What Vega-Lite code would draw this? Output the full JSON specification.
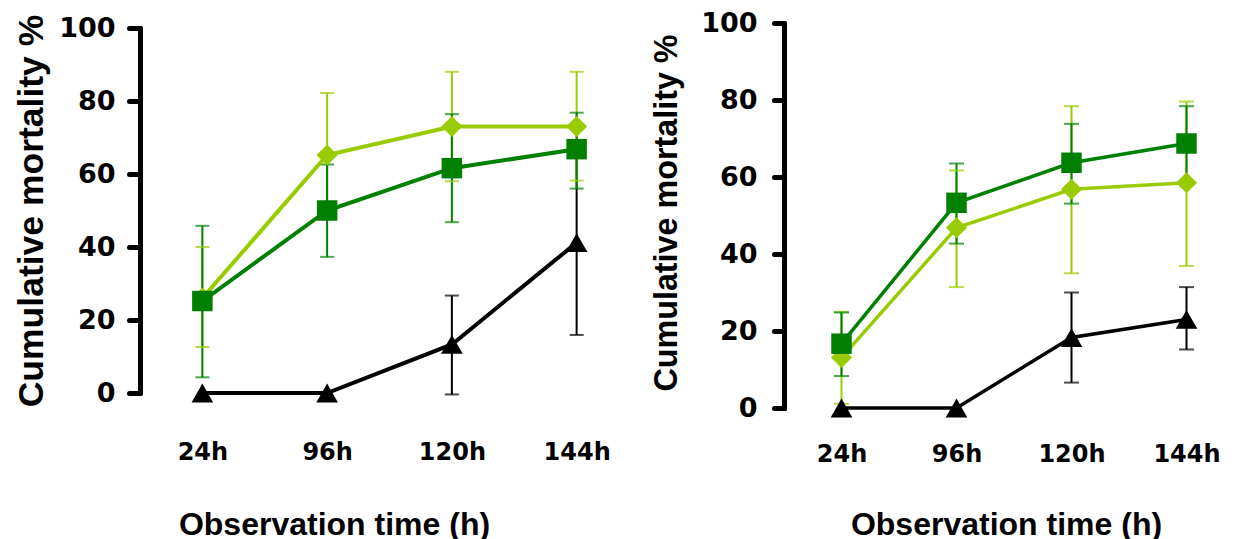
{
  "$schema": "https://vega.github.io/schema/vega-lite/v6.json",
  "padding": {"left": 13, "top": 4, "right": 0, "bottom": 0},
  "spacing": 10,
  "align": "each",
  "center": true,
  "config": {
    "view": {"stroke": null},
    "axis": {"grid": false, "labelFont": "DejaVu Sans", "labelFontWeight": "bold", "labelColor": "#000000", "titleColor": "#000000", "domainColor": "#000000", "tickColor": "#000000"}
  },
  "datasets": {
    "d": [
      {"panel": 1, "series": "A", "time": "24h", "hours": 24, "mean": 0, "lo": null, "hi": null},
      {"panel": 1, "series": "A", "time": "96h", "hours": 96, "mean": 0, "lo": null, "hi": null},
      {"panel": 1, "series": "A", "time": "120h", "hours": 120, "mean": 13.3, "lo": -0.4, "hi": 26.7},
      {"panel": 1, "series": "A", "time": "144h", "hours": 144, "mean": 41.2, "lo": 15.9, "hi": 66.5},
      {"panel": 1, "series": "B", "time": "24h", "hours": 24, "mean": 26.0, "lo": 12.6, "hi": 40.0},
      {"panel": 1, "series": "B", "time": "96h", "hours": 96, "mean": 65.2, "lo": 48.2, "hi": 82.2},
      {"panel": 1, "series": "B", "time": "120h", "hours": 120, "mean": 73.0, "lo": 58.0, "hi": 88.0},
      {"panel": 1, "series": "B", "time": "144h", "hours": 144, "mean": 73.0, "lo": 58.2, "hi": 88.0},
      {"panel": 1, "series": "C", "time": "24h", "hours": 24, "mean": 25.2, "lo": 4.3, "hi": 45.8},
      {"panel": 1, "series": "C", "time": "96h", "hours": 96, "mean": 50.0, "lo": 37.3, "hi": 62.6},
      {"panel": 1, "series": "C", "time": "120h", "hours": 120, "mean": 61.6, "lo": 46.8, "hi": 76.4},
      {"panel": 1, "series": "C", "time": "144h", "hours": 144, "mean": 66.8, "lo": 56.0, "hi": 76.8},
      {"panel": 2, "series": "A", "time": "24h", "hours": 24, "mean": 0, "lo": null, "hi": null},
      {"panel": 2, "series": "A", "time": "96h", "hours": 96, "mean": 0, "lo": null, "hi": null},
      {"panel": 2, "series": "A", "time": "120h", "hours": 120, "mean": 18.3, "lo": 6.6, "hi": 30.0},
      {"panel": 2, "series": "A", "time": "144h", "hours": 144, "mean": 23.0, "lo": 15.2, "hi": 31.4},
      {"panel": 2, "series": "B", "time": "24h", "hours": 24, "mean": 13.1, "lo": 1.1, "hi": 25.0},
      {"panel": 2, "series": "B", "time": "96h", "hours": 96, "mean": 46.8, "lo": 31.4, "hi": 61.7},
      {"panel": 2, "series": "B", "time": "120h", "hours": 120, "mean": 56.8, "lo": 35.0, "hi": 78.4},
      {"panel": 2, "series": "B", "time": "144h", "hours": 144, "mean": 58.5, "lo": 36.9, "hi": 79.6},
      {"panel": 2, "series": "C", "time": "24h", "hours": 24, "mean": 16.7, "lo": 8.3, "hi": 24.8},
      {"panel": 2, "series": "C", "time": "96h", "hours": 96, "mean": 53.3, "lo": 42.7, "hi": 63.5},
      {"panel": 2, "series": "C", "time": "120h", "hours": 120, "mean": 63.7, "lo": 53.1, "hi": 73.8},
      {"panel": 2, "series": "C", "time": "144h", "hours": 144, "mean": 68.7, "lo": 59.0, "hi": 78.4}
    ]
  },
  "hconcat": [
    {
      "width": 499,
      "height": 365,
      "data": {"name": "d"},
      "transform": [{"filter": "datum.panel == 1"}],
      "encoding": {
        "x": {"field": "time", "type": "ordinal",
          "scale": {"type": "point", "domain": ["24h", "96h", "120h", "144h"], "padding": 0.5},
          "axis": {"title": "Observation time (h)", "domain": false, "ticks": false, "labelFontSize": 24, "labelPadding": 47, "labelAngle": 0,
            "titleFont": "Liberation Sans", "titleFontSize": 32, "titleFontWeight": "bold", "titleX": 194, "titleY": 141, "titleBaseline": "alphabetic", "titleAlign": "center"}},
        "color": {"field": "series", "type": "nominal", "scale": {"domain": ["A", "B", "C"], "range": ["#000000", "#99CC00", "#008000"]}, "legend": null}
      },
      "layer": [
        {"mark": {"type": "rule", "strokeWidth": 2},
          "encoding": {
            "y": {"field": "lo", "type": "quantitative", "scale": {"domain": [0, 100], "nice": false},
              "axis": {"title": "Cumulative mortality %", "values": [0, 20, 40, 60, 80, 100], "tickSize": 11, "tickWidth": 5, "domainWidth": 5, "tickCap": "round", "domainCap": "round", "labelFontSize": 27, "labelPadding": 14,
                "titleFont": "Liberation Sans", "titleFontSize": 35.5, "titleFontWeight": "bold", "titleX": -98, "titleY": 182.5, "titleAngle": -90, "titleBaseline": "alphabetic", "titleAlign": "center"}},
            "y2": {"field": "hi"}
          }},
        {"mark": {"type": "tick", "thickness": 2, "size": 14}, "encoding": {"y": {"field": "lo", "type": "quantitative"}}},
        {"mark": {"type": "tick", "thickness": 2, "size": 14}, "encoding": {"y": {"field": "hi", "type": "quantitative"}}},
        {"mark": {"type": "line", "strokeWidth": 4}, "encoding": {"y": {"field": "mean", "type": "quantitative"}, "order": {"field": "hours", "type": "quantitative"}}},
        {"mark": {"type": "point", "filled": true, "opacity": 1},
          "encoding": {
            "y": {"field": "mean", "type": "quantitative"},
            "shape": {"field": "series", "type": "nominal", "scale": {"domain": ["A", "B", "C"], "range": ["triangle-up", "diamond", "square"]}, "legend": null},
            "size": {"field": "series", "type": "nominal", "scale": {"domain": ["A", "B", "C"], "range": [470, 420, 330]}, "legend": null}
          }}
      ]
    },
    {
      "width": 460,
      "height": 385,
      "title": {"text": " ", "fontSize": 1, "offset": 4},
      "data": {"name": "d"},
      "transform": [{"filter": "datum.panel == 2"}],
      "encoding": {
        "x": {"field": "time", "type": "ordinal",
          "scale": {"type": "point", "domain": ["24h", "96h", "120h", "144h"], "padding": 0.5},
          "axis": {"title": ["Observation time (h)", " "], "titleLineHeight": 5, "domain": false, "ticks": false, "labelFontSize": 24, "labelPadding": 34, "labelAngle": 0,
            "titleFont": "Liberation Sans", "titleFontSize": 32, "titleFontWeight": "bold", "titleX": 222, "titleY": 126, "titleBaseline": "alphabetic", "titleAlign": "center"}},
        "color": {"field": "series", "type": "nominal", "scale": {"domain": ["A", "B", "C"], "range": ["#000000", "#99CC00", "#008000"]}, "legend": null}
      },
      "layer": [
        {"mark": {"type": "rule", "strokeWidth": 2},
          "encoding": {
            "y": {"field": "lo", "type": "quantitative", "scale": {"domain": [0, 100], "nice": false},
              "axis": {"title": "Cumulative mortality %", "values": [0, 20, 40, 60, 80, 100], "tickSize": 10, "tickWidth": 5, "domainWidth": 5, "tickCap": "round", "domainCap": "round", "labelFontSize": 27, "labelPadding": 17,
                "titleFont": "Liberation Sans", "titleFontSize": 32.3, "titleFontWeight": "bold", "titleX": -108, "titleY": 189.5, "titleAngle": -90, "titleBaseline": "alphabetic", "titleAlign": "center", "titleLineHeight": 32}},
            "y2": {"field": "hi"}
          }},
        {"mark": {"type": "tick", "thickness": 2, "size": 15}, "encoding": {"y": {"field": "lo", "type": "quantitative"}}},
        {"mark": {"type": "tick", "thickness": 2, "size": 15}, "encoding": {"y": {"field": "hi", "type": "quantitative"}}},
        {"mark": {"type": "line", "strokeWidth": 3.5}, "encoding": {"y": {"field": "mean", "type": "quantitative"}, "order": {"field": "hours", "type": "quantitative"}}},
        {"mark": {"type": "point", "filled": true, "opacity": 1},
          "encoding": {
            "y": {"field": "mean", "type": "quantitative"},
            "shape": {"field": "series", "type": "nominal", "scale": {"domain": ["A", "B", "C"], "range": ["triangle-up", "diamond", "square"]}, "legend": null},
            "size": {"field": "series", "type": "nominal", "scale": {"domain": ["A", "B", "C"], "range": [470, 440, 380]}, "legend": null}
          }}
      ]
    }
  ]
}
